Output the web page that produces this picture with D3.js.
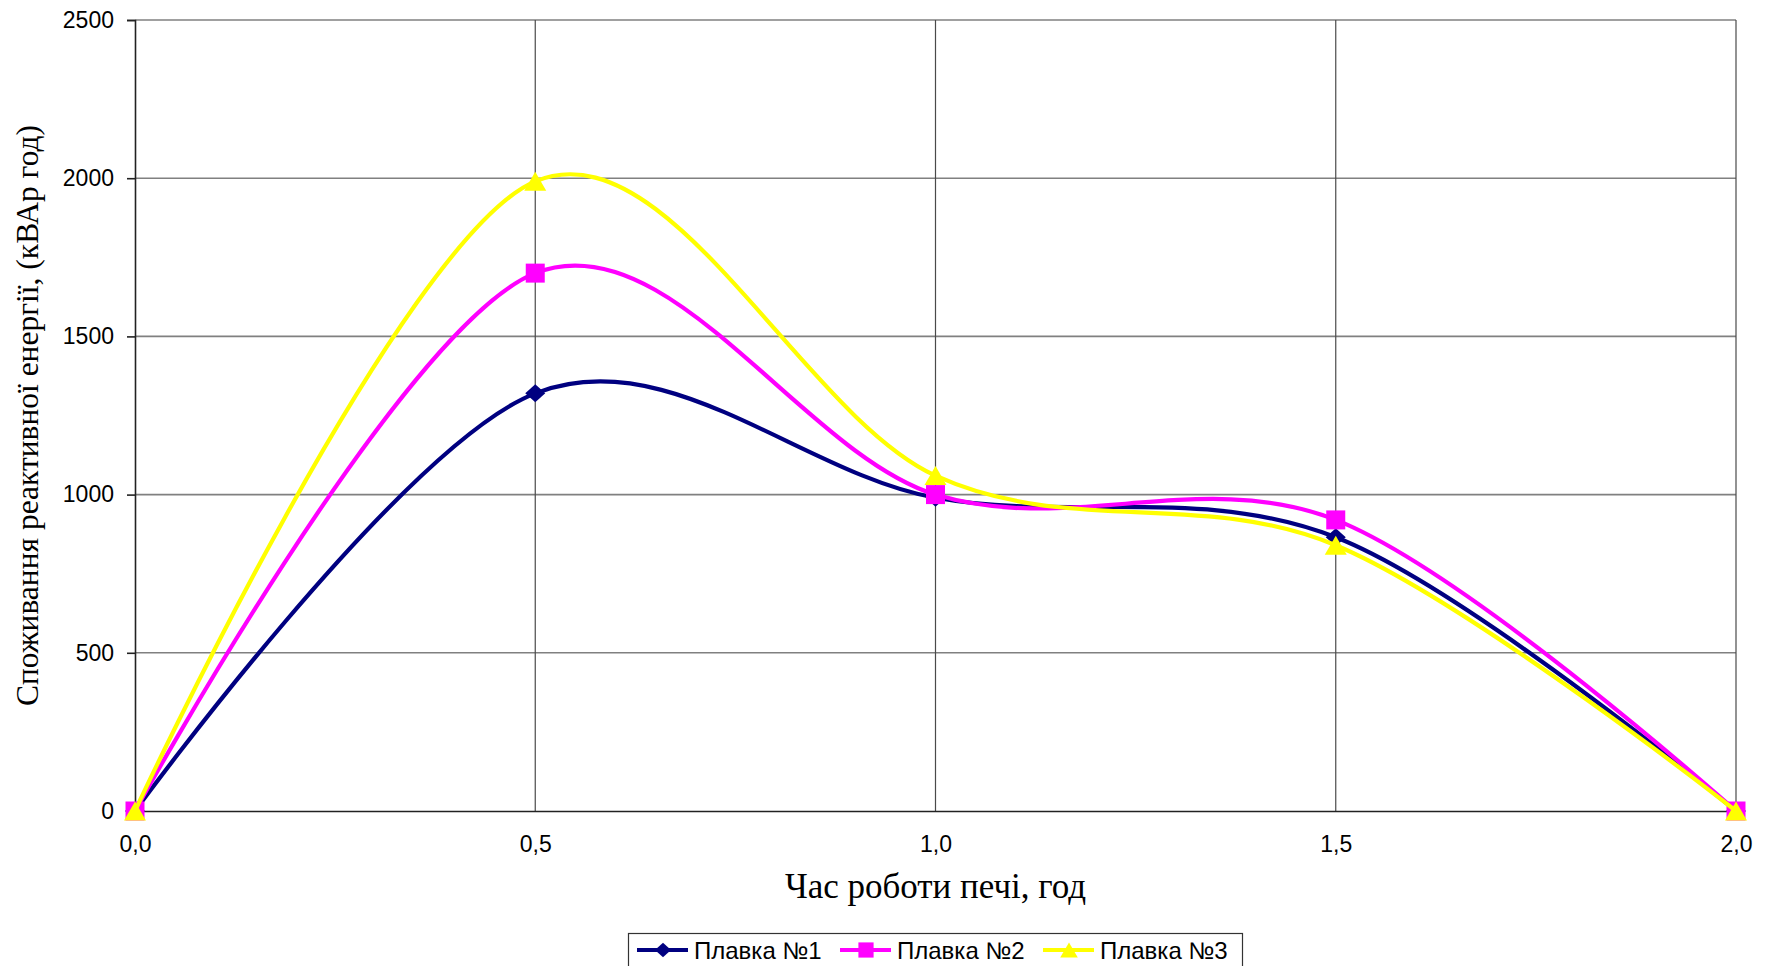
<!DOCTYPE html>
<html>
<head>
<meta charset="utf-8">
<script src="https://cdn.jsdelivr.net/npm/d3@7"></script>
<style>
  html, body { margin: 0; padding: 0; background: #fff; }
  svg { display: block; }
</style>
</head>
<body>
<svg id="chart" width="1773" height="966"></svg>
<script>
// Melt time, hours
const hours = [0, 0.5, 1.0, 1.5, 2.0];
// Reactive energy consumption per melt, kVAr·h
const melt1 = [0, 1320, 990, 865, 0];
const melt2 = [0, 1700, 1000, 920, 0];
const melt3 = [0, 1990, 1060, 840, 0];
const seriesNames = ["Плавка №1", "Плавка №2", "Плавка №3"];
const seriesColors = ["#000080", "#ff00ff", "#ffff00"];
const seriesMarkers = ["diamond", "square", "triangle"];
const yTicks = [0, 500, 1000, 1500, 2000, 2500];
const xTicks = [0, 0.5, 1.0, 1.5, 2.0];

const series = [melt1, melt2, melt3].map((vals, i) => ({
  name: seriesNames[i],
  color: seriesColors[i],
  marker: seriesMarkers[i],
  points: hours.map((h, j) => ({ x: h, y: vals[j] }))
}));

// Marker shapes, centred on their bounding box
function markerPath(kind, k) {
  const p = d3.path();
  if (kind === "diamond") {
    const w = 10 * k, h = 9 * k;
    p.moveTo(0, -h); p.lineTo(w, 0); p.lineTo(0, h); p.lineTo(-w, 0); p.closePath();
  } else if (kind === "square") {
    const s = 9.5 * k;
    p.rect(-s, -s, 2 * s, 2 * s);
  } else {
    const w = 11 * k, h = 9.5 * k;
    p.moveTo(0, -h); p.lineTo(w, h); p.lineTo(-w, h); p.closePath();
  }
  return p.toString();
}

const svg = d3.select("#chart");
const plot = { left: 135, right: 1736, top: 20, bottom: 811 };

const x = d3.scaleLinear().domain([0, 2]).range([plot.left, plot.right]);
const y = d3.scaleLinear().domain([0, 2500]).range([plot.bottom, plot.top]);

const fmtX = d => d3.format(".1f")(d).replace(".", ",");

// Horizontal gridlines
svg.append("g")
  .selectAll("line")
  .data(yTicks.filter(d => d > 0))
  .join("line")
  .attr("x1", plot.left).attr("x2", plot.right)
  .attr("y1", d => y(d)).attr("y2", d => y(d))
  .attr("stroke", "#808080").attr("stroke-width", 1.6);

// Vertical gridlines
svg.append("g")
  .selectAll("line")
  .data(xTicks.filter(d => d > 0))
  .join("line")
  .attr("x1", d => x(d)).attr("x2", d => x(d))
  .attr("y1", plot.top).attr("y2", plot.bottom)
  .attr("stroke", "#4a4a4a").attr("stroke-width", 1.2);

// Y axis
const yAxis = svg.append("g")
  .attr("transform", `translate(${plot.left},0)`)
  .call(d3.axisLeft(y).tickValues(yTicks).tickSize(8).tickPadding(13).tickFormat(d3.format("d")));
yAxis.select(".domain").attr("stroke", "#222").attr("stroke-width", 1.6);
yAxis.selectAll(".tick line").attr("stroke", "#222").attr("stroke-width", 1.6);
yAxis.selectAll(".tick text")
  .attr("font-family", "'Liberation Sans', Arial, sans-serif")
  .attr("font-size", 23).attr("fill", "#000");

// X axis
const xAxis = svg.append("g")
  .attr("transform", `translate(0,${plot.bottom})`)
  .call(d3.axisBottom(x).tickValues(xTicks).tickSize(0).tickPadding(25).tickFormat(fmtX));
xAxis.select(".domain").attr("stroke", "#222").attr("stroke-width", 1.6);
xAxis.selectAll(".tick text")
  .attr("font-family", "'Liberation Sans', Arial, sans-serif")
  .attr("font-size", 23).attr("fill", "#000");

// Axis titles
svg.append("text")
  .attr("x", (plot.left + plot.right) / 2)
  .attr("y", 898)
  .attr("text-anchor", "middle")
  .attr("font-family", "'Liberation Serif', 'Times New Roman', serif")
  .attr("font-size", 35)
  .text("Час роботи печі, год");

svg.append("text")
  .attr("transform", `translate(38,${(plot.top + plot.bottom) / 2}) rotate(-90)`)
  .attr("text-anchor", "middle")
  .attr("font-family", "'Liberation Serif', 'Times New Roman', serif")
  .attr("font-size", 31.5)
  .text("Споживання реактивної енергії, (кВАр год)");

// Smoothed lines and markers
const line = d3.line()
  .x(d => x(d.x)).y(d => y(d.y))
  .curve(d3.curveCardinal.tension(0));

series.forEach(s => {
  const g = svg.append("g");
  g.append("path")
    .attr("d", line(s.points))
    .attr("fill", "none")
    .attr("stroke", s.color)
    .attr("stroke-width", 4.2)
    .attr("stroke-linejoin", "round");
  g.selectAll("path.mark")
    .data(s.points)
    .join("path")
    .attr("class", "mark")
    .attr("transform", d => `translate(${x(d.x)},${y(d.y)})`)
    .attr("d", markerPath(s.marker, 1))
    .attr("fill", s.color);
});

// Legend
const legend = svg.append("g");
legend.append("rect")
  .attr("x", 628.5).attr("y", 933.5)
  .attr("width", 614).attr("height", 60)
  .attr("fill", "#fff").attr("stroke", "#333").attr("stroke-width", 1.2);

const legendX = [637, 840, 1043];
series.forEach((s, i) => {
  const lx = legendX[i];
  const ly = 950;
  legend.append("line")
    .attr("x1", lx).attr("x2", lx + 51)
    .attr("y1", ly).attr("y2", ly)
    .attr("stroke", s.color).attr("stroke-width", 4.2);
  legend.append("path")
    .attr("transform", `translate(${lx + 26},${ly})`)
    .attr("d", markerPath(s.marker, 0.8))
    .attr("fill", s.color);
  legend.append("text")
    .attr("x", lx + 57).attr("y", ly)
    .attr("dy", "0.36em")
    .attr("font-family", "'Liberation Sans', Arial, sans-serif")
    .attr("font-size", 24)
    .text(s.name);
});
</script>
</body>
</html>
